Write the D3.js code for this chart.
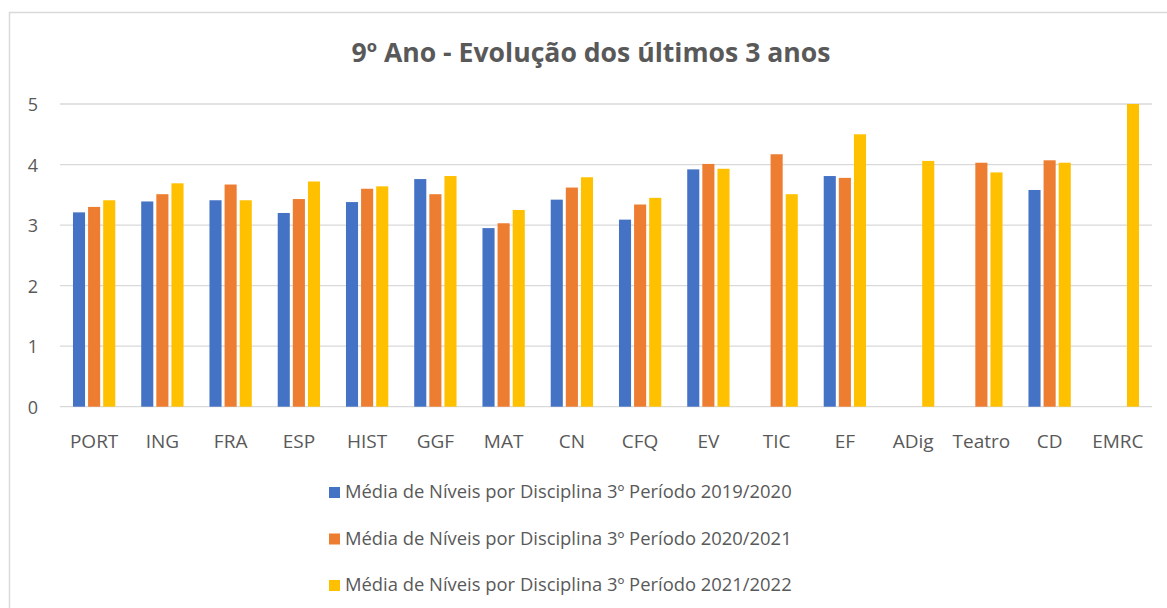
<!DOCTYPE html>
<html>
<head>
<meta charset="utf-8">
<script src="https://cdn.jsdelivr.net/npm/d3@7"></script>
<style>
body{margin:0;background:#fff;}
text{font-family:"Open Sans",sans-serif;fill:#595959;}
</style>
</head>
<body>
<script>
// disciplinas
var categories=["PORT","ING","FRA","ESP","HIST","GGF","MAT","CN","CFQ","EV","TIC","EF","ADig","Teatro","CD","EMRC"];
var seriesNames=["Média de Níveis por Disciplina 3º Período 2019/2020",
                 "Média de Níveis por Disciplina 3º Período 2020/2021",
                 "Média de Níveis por Disciplina 3º Período 2021/2022"];
var colors=["#4472c4","#ed7d31","#ffc000"];
var s2020=[3.21,3.39,3.41,3.20,3.38,3.76,2.95,3.42,3.09,3.92,null,3.81,null,null,3.58,null];
var s2021=[3.30,3.51,3.67,3.43,3.60,3.51,3.03,3.62,3.34,4.01,4.17,3.78,null,4.03,4.07,null];
var s2022=[3.41,3.69,3.41,3.72,3.64,3.81,3.25,3.79,3.45,3.93,3.51,4.50,4.06,3.87,4.03,5.00];
var yTicks=[0,1,2,3,4,5];
var series=[s2020,s2021,s2022];

var W=1167,H=608;
var svg=d3.select('body').append('svg')
    .attr('width',W)
    .attr('height',H);

// borda do grafico
svg.append("rect").attr("x",9.5).attr("y",12.5)
    .attr("width",W+20).attr("height",H+20)
    .attr("fill","none").attr("stroke","#d9d9d9").attr("stroke-width",1.5);

svg.append("text").attr("x",591).attr("y",62)
    .attr("text-anchor","middle")
    .style("font-size","26.6px").style("font-weight","bold")
    .text("9º Ano - Evolução dos últimos 3 anos");

var x=d3.scaleBand().domain(categories).range([60,1152]).paddingInner(0.38).paddingOuter(0.19);
var xSub=d3.scaleBand().domain([0,1,2]).range([0,x.bandwidth()]).paddingInner(0.2);
var y=d3.scaleLinear().domain([0,5]).range([406.7,104]);

// grelha
svg.append("g").selectAll("line").data(yTicks).enter().append("line")
    .attr("x1",60).attr("x2",1152)
    .attr("y1",function(d){return y(d)}).attr("y2",function(d){return y(d)})
    .attr("stroke","#d9d9d9").attr("stroke-width",1.3);

svg.append("g").selectAll("text").data(yTicks).enter().append("text")
    .attr("x",38).attr("y",function(d){return y(d)+7})
    .attr("text-anchor","end").style("font-size","18px")
    .text(function(d){return d});

// barras
series.forEach(function(s,k){
  svg.append("g").selectAll("rect")
     .data(s.map(function(v,i){return {c:categories[i],v:v}}).filter(function(d){return d.v!==null}))
     .enter().append("rect")
     .attr("x",function(d){return x(d.c)+xSub(k)})
     .attr("width",xSub.bandwidth())
     .attr("y",function(d){return y(d.v)})
     .attr("height",function(d){return y(0)-y(d.v)})
     .attr("fill",colors[k]);
});

svg.append("g").selectAll("text").data(categories).enter().append("text")
    .attr("x",function(d){return x(d)+x.bandwidth()/2})
    .attr("y",448)
    .attr("text-anchor","middle").style("font-size","19px")
    .text(function(d){return d});

// legenda
var leg=svg.append("g").selectAll("g").data(seriesNames).enter().append("g")
    .attr("transform",function(d,i){return "translate(329,"+(498+i*46.5)+")"});
leg.append("rect").attr("x",0).attr("y",-11).attr("width",11).attr("height",11)
    .attr("fill",function(d,i){return colors[i]});
leg.append("text").attr("x",16).attr("y",0).style("font-size","18.4px")
    .text(function(d){return d});
</script>
</body>
</html>
